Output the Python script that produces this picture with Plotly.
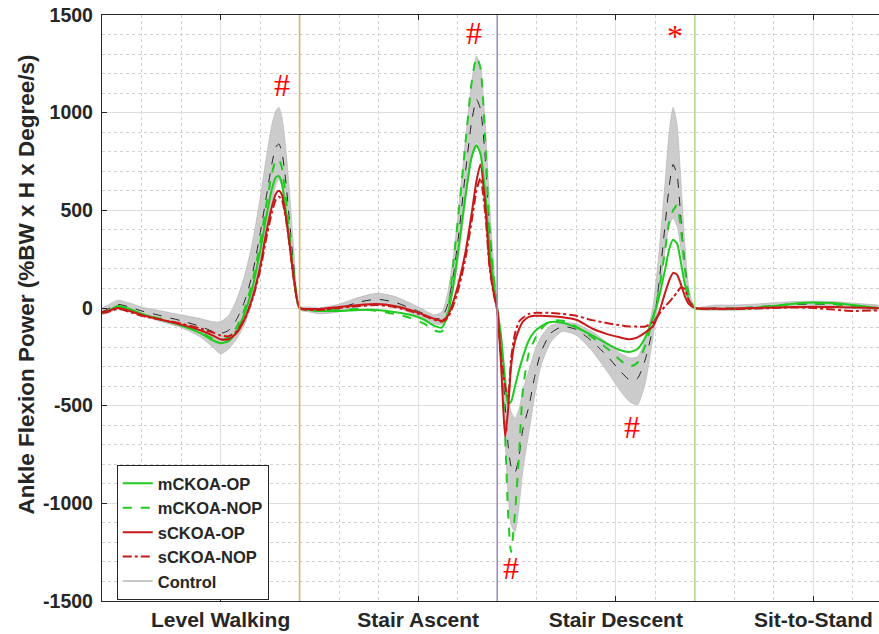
import plotly.graph_objects as go

# normalised time (0-100 per task, 4 tasks back to back)
x = [0, 3, 8, 14, 20, 30, 40, 50, 56, 60, 64, 68, 72, 76, 80, 83, 86, 88, 89.5, 91, 93, 95, 97, 100,
     105, 110, 120, 130, 139, 148, 156, 163, 168, 172, 175, 178, 181, 184, 187, 189.5, 191.5, 194, 196, 198, 200,
     202, 204, 205.5, 207, 209, 211, 213, 216, 219, 222, 227, 233, 240, 248, 256, 262, 267, 271, 275, 279,
     282, 285, 287, 289, 291, 293, 295, 297, 300,
     310, 320, 330, 340, 350, 360, 370, 380, 393]

control_mean = [-20, -5, 18, 5, -15, -40, -65, -95, -120, -130, -115, -60, 30, 170, 380, 560, 740, 825, 840, 800, 650, 430, 220, 0,
                -5, -10, 0, 30, 45, 30, 0, -30, -55, -50, 20, 180, 420, 700, 950, 1068, 1020, 760, 430, 180, 0,
                -200, -500, -700, -810, -843, -760, -620, -505, -350, -230, -130, -95, -110, -170, -250, -320, -368, -360, -260, -90,
                140, 430, 620, 735, 680, 450, 220, 70, 0,
                0, 0, 5, 12, 18, 20, 18, 10, 0]
control_upper = [0, 15, 40, 25, 5, -15, -35, -55, -70, -70, -40, 40, 160, 330, 560, 760, 940, 1010, 1027, 980, 820, 580, 310, 10,
                 5, 0, 20, 55, 75, 60, 25, -10, -35, -20, 80, 280, 560, 870, 1150, 1290, 1240, 930, 560, 250, 20,
                 -130, -330, -450, -530, -565, -520, -420, -320, -220, -150, -90, -75, -80, -120, -180, -230, -255, -250, -160, 20,
                 300, 650, 900, 1027, 940, 640, 320, 100, 5,
                 15, 15, 20, 27, 33, 35, 33, 25, 15]
control_lower = [-35, -25, -5, -15, -40, -70, -100, -150, -200, -235, -210, -160, -90, 30, 200, 370, 540, 630, 660, 620, 480, 290, 130, -10,
                 -20, -30, -20, 5, 15, 5, -25, -55, -80, -85, -30, 100, 300, 540, 760, 850, 810, 600, 320, 120, -20,
                 -280, -680, -950, -1110, -1145, -1020, -830, -640, -450, -300, -175, -120, -140, -220, -330, -420, -480, -495, -380, -140,
                 60, 300, 420, 460, 420, 300, 170, 50, -5,
                 -12, -12, -8, -2, 3, 5, 3, -3, -12]

m_op = [-25, -15, 10, -5, -30, -60, -90, -130, -165, -180, -170, -120, -30, 100, 290, 460, 610, 670, 675, 640, 500, 330, 160, 0,
        -10, -15, -15, -10, -10, -20, -35, -60, -90, -100, -30, 130, 350, 580, 770, 833, 790, 580, 330, 140, 0,
        -150, -380, -490, -480, -400, -320, -250, -165, -120, -95, -72, -75, -100, -140, -185, -215, -225, -210, -150, -40,
        60, 200, 300, 350, 330, 230, 120, 40, 0,
        -5, -5, 0, 10, 22, 28, 25, 15, 0]
m_nop = [-25, -15, 5, -10, -30, -55, -85, -125, -155, -165, -150, -100, -10, 130, 330, 520, 690, 755, 760, 720, 570, 370, 180, 0,
         -10, -15, -10, -5, -15, -30, -50, -80, -115, -120, -20, 250, 540, 850, 1150, 1283, 1230, 850, 420, 180, 0,
         -250, -650, -1050, -1250, -1050, -760, -420, -230, -160, -110, -65, -65, -95, -150, -210, -265, -300, -280, -190, -50,
         100, 300, 440, 500, 525, 400, 200, 60, 0,
         -5, -3, 3, 12, 22, 25, 20, 10, -5]
s_op = [-20, -15, 0, -15, -35, -60, -85, -115, -140, -160, -160, -130, -60, 50, 210, 380, 520, 585, 600, 580, 470, 320, 160, 0,
        -5, -5, 5, 15, 20, 10, -10, -35, -55, -65, -40, 40, 150, 290, 480, 650, 735, 520, 240, 90, -10,
        -300, -660, -520, -300, -170, -110, -70, -45, -40, -40, -42, -47, -60, -105, -135, -150, -160, -150, -125, -90,
        -20, 80, 140, 180, 170, 120, 60, 20, 0,
        -3, -3, 0, 3, 5, 7, 5, 3, 0]
s_nop = [-25, -20, -5, -20, -40, -60, -80, -105, -125, -140, -145, -120, -60, 40, 190, 350, 490, 555, 570, 555, 460, 320, 150, 0,
         -10, -10, 0, 10, 15, 5, -15, -40, -60, -70, -50, 20, 120, 260, 440, 600, 665, 480, 220, 80, -10,
         -250, -400, -455, -260, -130, -70, -50, -30, -25, -25, -25, -30, -40, -62, -78, -88, -95, -95, -95, -70,
         -30, 10, 30, 55, 80, 105, 95, 40, 0,
         -5, -5, -3, 0, 3, 0, -8, -15, -12]

task_ticks = [60, 160, 260, 360]
task_names = ["Level Walking", "Stair Ascent", "Stair Descent", "Sit-to-Stand"]
task_bounds = [100, 200, 300]
bound_colors = ["#d8b46c", "#9d8fc2", "#b4d98f"]

y_ticks = [-1500, -1000, -500, 0, 500, 1000, 1500]
y_ticktext = ["-1500", "-1000", "-500", "0", "500", "1000", "1500"]

# significance markers
sig_x = [91, 188, 290, 207, 268]
sig_y = [1140, 1410, 1390, -1330, -610]
sig_text = ["#", "#", "*", "#", "#"]

GREEN = "#1fcb1f"
RED = "#c81a1a"

fig = go.Figure()

# control band
fig.add_trace(go.Scatter(x=x, y=control_upper, mode="lines", line=dict(color="#b0b0b0", width=0.6, shape="spline", smoothing=0.6),
                         showlegend=False, hoverinfo="skip"))
fig.add_trace(go.Scatter(x=x, y=control_lower, mode="lines", line=dict(color="#b0b0b0", width=0.6, shape="spline", smoothing=0.6),
                         fill="tonexty", fillcolor="rgba(198,198,198,0.9)", showlegend=False, hoverinfo="skip"))
fig.add_trace(go.Scatter(x=x, y=control_mean, mode="lines", line=dict(color="#222222", width=1, dash="dash", shape="spline", smoothing=0.6),
                         showlegend=False))

series = [
    ("mCKOA-OP", m_op, GREEN, "solid"),
    ("mCKOA-NOP", m_nop, GREEN, "dash"),
    ("sCKOA-OP", s_op, RED, "solid"),
    ("sCKOA-NOP", s_nop, RED, "dashdot"),
]
for name, ys, col, dash in series:
    fig.add_trace(go.Scatter(x=x, y=ys, mode="lines", name=name,
                             line=dict(color=col, width=2, dash=dash, shape="spline", smoothing=0.6)))

# legend-only entry for control
fig.add_trace(go.Scatter(x=[None], y=[None], mode="lines", name="Control",
                         line=dict(color="#c8c8c8", width=2)))

for b, c in zip(task_bounds, bound_colors):
    fig.add_vline(x=b, line=dict(color=c, width=1.6))

for sx, sy, st in zip(sig_x, sig_y, sig_text):
    fig.add_annotation(x=sx, y=sy, text=st, showarrow=False,
                       font=dict(family="Liberation Serif", size=32, color="#ff0000"))

# y title placed as annotation (it sits above the axis centre in the original)
fig.add_annotation(x=-0.0965, y=0.54, xref="paper", yref="paper", textangle=-90,
                   text="Ankle Flexion Power (%BW x H x Degree/s)", showarrow=False,
                   xanchor="center", yanchor="middle",
                   font=dict(size=22.5, weight="bold", color="#262626"))

fig.update_layout(
    width=879, height=634,
    margin=dict(l=102, r=0, t=15, b=33),
    paper_bgcolor="white", plot_bgcolor="white",
    font=dict(family="Liberation Sans, Arial", color="#262626"),
    showlegend=True,
    legend=dict(x=0.019, y=0.232, xanchor="left", yanchor="top", traceorder="normal",
                bgcolor="white", bordercolor="#262626", borderwidth=1,
                font=dict(size=16.5, weight="bold"),
                tracegroupgap=0, itemwidth=30),
)
fig.update_xaxes(
    range=[0, 393.2], tickvals=task_ticks, ticktext=task_names, automargin=False,
    tickfont=dict(size=21, weight="bold"), ticklabeloverflow="allow",
    showline=True, linecolor="#262626", linewidth=1.3, mirror="ticks",
    ticks="inside", ticklen=5, tickcolor="#262626",
    showgrid=True, gridcolor="#dedede", gridwidth=1, zeroline=False,
    minor=dict(dtick=20, tick0=0, showgrid=True, gridcolor="#d2d2d2", griddash="dot", gridwidth=1),
)
fig.update_yaxes(
    range=[-1500, 1500], tickvals=y_ticks, ticktext=y_ticktext, automargin=False,
    tickfont=dict(size=19.5, weight="bold"), ticklabelstandoff=4, ticklabeloverflow="allow",
    showline=True, linecolor="#262626", linewidth=1.3,
    ticks="inside", ticklen=5, tickcolor="#262626",
    showgrid=True, gridcolor="#dedede", gridwidth=1, zeroline=False,
    minor=dict(dtick=100, tick0=0, showgrid=True, gridcolor="#d2d2d2", griddash="dot", gridwidth=1),
)

# drop the default page margin so the figure fills the window exactly
fig.write_html("out.html", config={"displayModeBar": False},
               post_script="document.body.style.margin='0';")
